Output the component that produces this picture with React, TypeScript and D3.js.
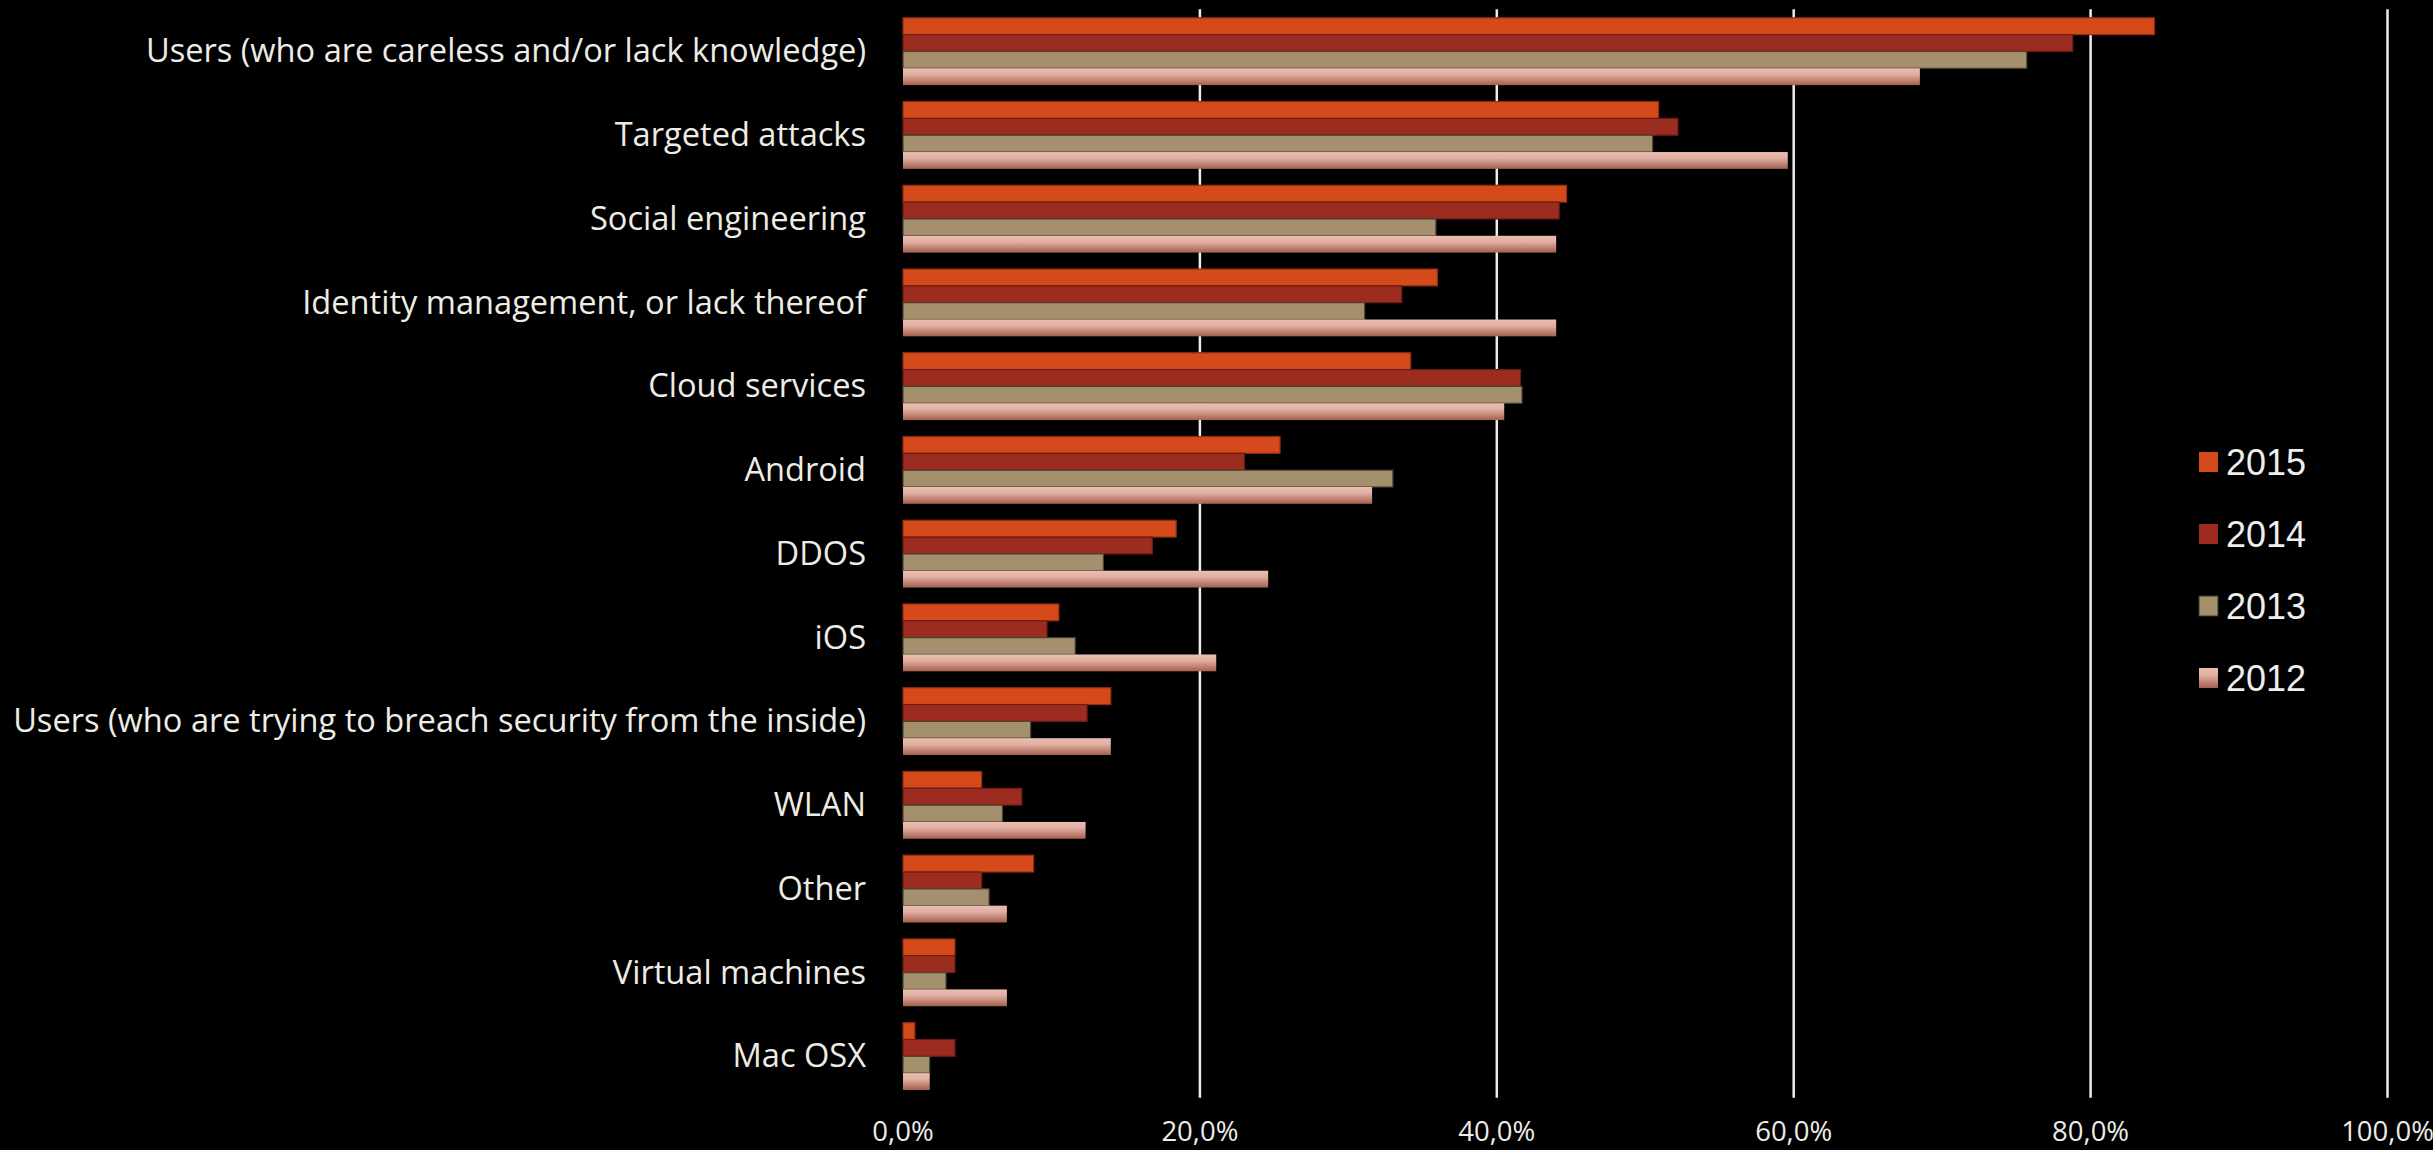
import React, { useEffect } from "react";
import * as d3 from "d3";

const categories = [
  "Users (who are careless and/or lack knowledge)",
  "Targeted attacks",
  "Social engineering",
  "Identity management, or lack thereof",
  "Cloud services",
  "Android",
  "DDOS",
  "iOS",
  "Users (who are trying to breach security from the inside)",
  "WLAN",
  "Other",
  "Virtual machines",
  "Mac OSX",
];

const series = ["2015", "2014", "2013", "2012"];

const values2015 = [84.3, 50.9, 44.7, 36.0, 34.2, 25.4, 18.4, 10.5, 14.0, 5.3, 8.8, 3.5, 0.8];
const values2014 = [78.8, 52.2, 44.2, 33.6, 41.6, 23.0, 16.8, 9.7, 12.4, 8.0, 5.3, 3.5, 3.5];
const values2013 = [75.7, 50.5, 35.9, 31.1, 41.7, 33.0, 13.5, 11.6, 8.6, 6.7, 5.8, 2.9, 1.8];
const values2012 = [68.5, 59.6, 44.0, 44.0, 40.5, 31.6, 24.6, 21.1, 14.0, 12.3, 7.0, 7.0, 1.8];

const xTicks = [0, 20, 40, 60, 80, 100];

const W = 2433;
const H = 1150;

const fills: Record<string, string> = {
  "2015": "#D44A1A",
  "2014": "#9C2B20",
  "2013": "#A5906E",
  "2012": "url(#grad2012)",
};
const strokes: Record<string, string> = {
  "2015": "#8E2E12",
  "2014": "#6A1C14",
  "2013": "#4A4232",
  "2012": "none",
};

export default function App() {
  useEffect(() => {
    document.body.style.margin = "0";
    document.body.style.background = "#000";
  }, []);

  const valuesBySeries: Record<string, number[]> = {
    "2015": values2015,
    "2014": values2014,
    "2013": values2013,
    "2012": values2012,
  };

  const x = d3.scaleLinear().domain([0, 100]).range([903, 2387.5]);
  const y = d3
    .scaleBand<string>()
    .domain(categories)
    .range([9.6, 1098.2])
    .paddingInner(0.196)
    .paddingOuter(0.098);
  const ys = d3.scaleBand<string>().domain(series).range([0, y.bandwidth()]);

  const fmt = (v: number) => d3.format(".1f")(v).replace(".", ",") + "%";

  const legendY = d3.scalePoint<string>().domain(series).range([462, 678]);

  return (
    <svg
      width={W}
      height={H}
      style={{ position: "absolute", left: 0, top: 0, display: "block", background: "#000" }}
    >
      <defs>
        <linearGradient id="grad2012" x1="0" y1="0" x2="0" y2="1">
          <stop offset="0" stopColor="#ECBDB3" />
          <stop offset="0.35" stopColor="#E2B0A4" />
          <stop offset="1" stopColor="#A5604E" />
        </linearGradient>
      </defs>
      <rect x={0} y={0} width={W} height={H} fill="#000" />

      {/* gridlines */}
      {xTicks
        .filter((t) => t > 0)
        .map((t) => (
          <line
            key={"g" + t}
            x1={x(t)}
            x2={x(t)}
            y1={9.3}
            y2={1097.7}
            stroke="#ECECEC"
            strokeWidth={2.5}
          />
        ))}

      {/* bars */}
      {categories.map((c, i) => (
        <g key={c} transform={`translate(0,${y(c)})`}>
          {series.map((s) => {
            const v = valuesBySeries[s][i];
            return (
              <rect
                key={s}
                x={x(0)}
                y={ys(s)!}
                width={x(v) - x(0)}
                height={ys.bandwidth()}
                fill={fills[s]}
                stroke={strokes[s]}
                strokeWidth={s === "2012" ? 0 : 1.2}
              />
            );
          })}
        </g>
      ))}

      {/* category labels */}
      {categories.map((c) => (
        <text
          key={"l" + c}
          x={866}
          y={y(c)! + y.bandwidth() / 2 + 11}
          textAnchor="end"
          fontFamily="'Open Sans', sans-serif"
          fontSize={32.6}
          fill="#EEECE6"
        >
          {c}
        </text>
      ))}

      {/* x-axis labels */}
      {xTicks.map((t) => (
        <text
          key={"x" + t}
          x={x(t)}
          y={1141}
          textAnchor="middle"
          fontFamily="'Open Sans', sans-serif"
          fontSize={27.5}
          fill="#EEECE6"
        >
          {fmt(t)}
        </text>
      ))}

      {/* legend */}
      {series.map((s) => (
        <g key={"lg" + s} transform={`translate(0,${legendY(s)})`}>
          <rect
            x={2199}
            y={-10}
            width={19}
            height={20}
            fill={fills[s]}
            stroke={s === "2013" ? "#3a3428" : "none"}
            strokeWidth={1}
          />
          <text
            x={2226}
            y={13}
            fontFamily="'Liberation Sans', Arial, sans-serif"
            fontSize={36}
            fill="#EEEEEE"
          >
            {s}
          </text>
        </g>
      ))}
    </svg>
  );
}
